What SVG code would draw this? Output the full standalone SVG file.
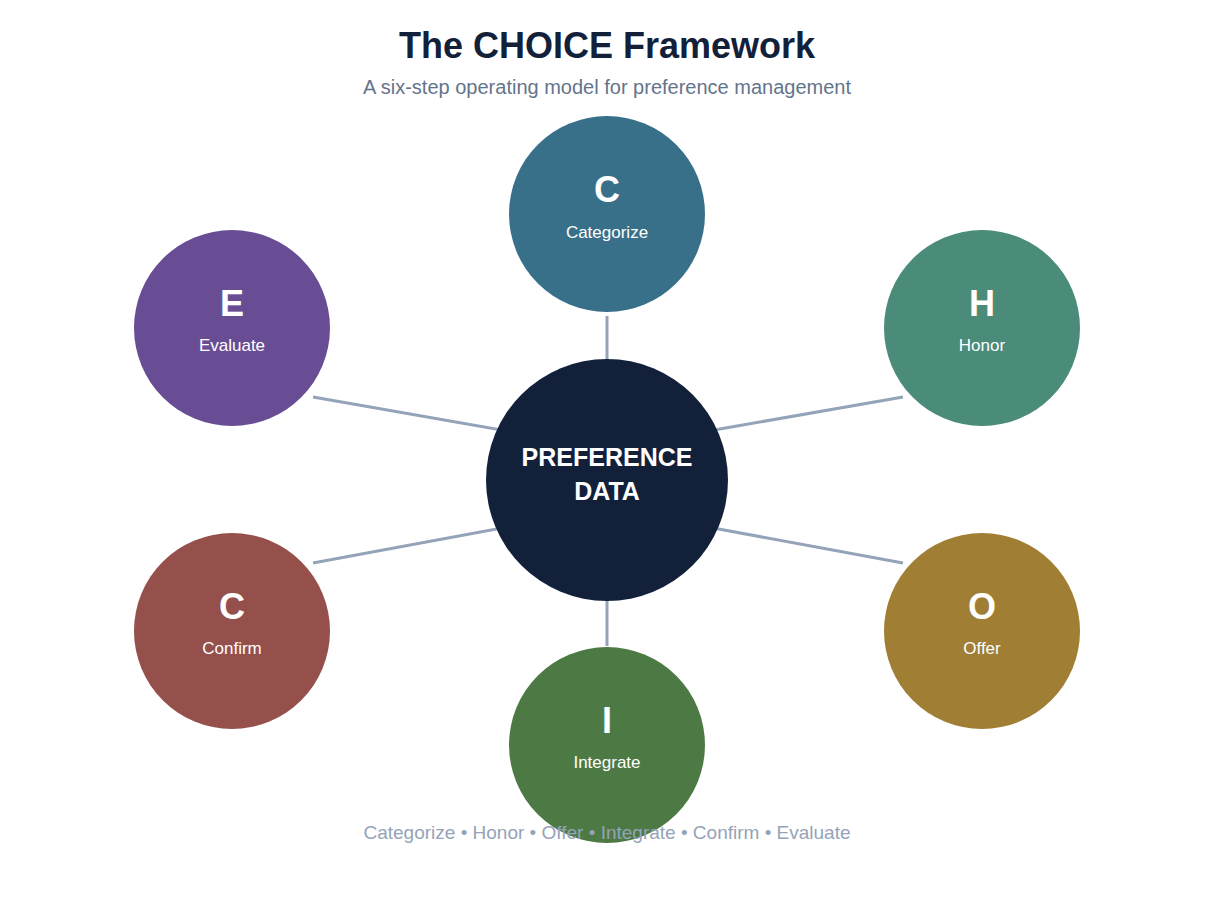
<svg xmlns="http://www.w3.org/2000/svg" width="1210" height="908" viewBox="0 0 1210 908">
<style>
text{font-family:"Liberation Sans",Arial,sans-serif;text-anchor:middle}
.l{font-size:36px;font-weight:bold;fill:#fff}
.n{font-size:17px;fill:#fff}
.c{stroke:#94A3B8;stroke-width:3;fill:none}
</style>
<rect width="1210" height="908" fill="#fff"/>
<text x="607" y="58" font-size="36" font-weight="bold" fill="#12203A">The CHOICE Framework</text>
<text x="607" y="94" font-size="20" fill="#64748B">A six-step operating model for preference management</text>
<g id="connectors">
<line class="c" x1="607" y1="316" x2="607" y2="362"/>
<line class="c" x1="697" y1="433" x2="903" y2="397"/>
<line class="c" x1="697" y1="525" x2="903" y2="563"/>
<line class="c" x1="607" y1="600" x2="607" y2="646"/>
<line class="c" x1="313" y1="563" x2="518" y2="525"/>
<line class="c" x1="313" y1="397" x2="518" y2="433"/>
</g>
<g id="center"><circle cx="607" cy="480" r="121" fill="#12203A"/>
<text x="607" y="466" font-size="25" font-weight="bold" fill="#fff">PREFERENCE</text>
<text x="607" y="500" font-size="25" font-weight="bold" fill="#fff">DATA</text></g>
<g id="categorize"><circle cx="607" cy="214" r="98" fill="#38708A"/><text class="l" x="607" y="202">C</text><text class="n" x="607" y="238">Categorize</text></g>
<g id="honor"><circle cx="982" cy="328" r="98" fill="#4A8B7A"/><text class="l" x="982" y="316">H</text><text class="n" x="982" y="351">Honor</text></g>
<g id="offer"><circle cx="982" cy="631" r="98" fill="#A07E33"/><text class="l" x="982" y="619">O</text><text class="n" x="982" y="654">Offer</text></g>
<g id="integrate"><circle cx="607" cy="745" r="98" fill="#4D7A44"/><text class="l" x="607" y="733">I</text><text class="n" x="607" y="768">Integrate</text></g>
<g id="confirm"><circle cx="232" cy="631" r="98" fill="#96504C"/><text class="l" x="232" y="619">C</text><text class="n" x="232" y="654">Confirm</text></g>
<g id="evaluate"><circle cx="232" cy="328" r="98" fill="#684D94"/><text class="l" x="232" y="316">E</text><text class="n" x="232" y="351">Evaluate</text></g>
<text x="607" y="839" font-size="19" fill="#94A3B8">Categorize • Honor • Offer • Integrate • Confirm • Evaluate</text>
</svg>
